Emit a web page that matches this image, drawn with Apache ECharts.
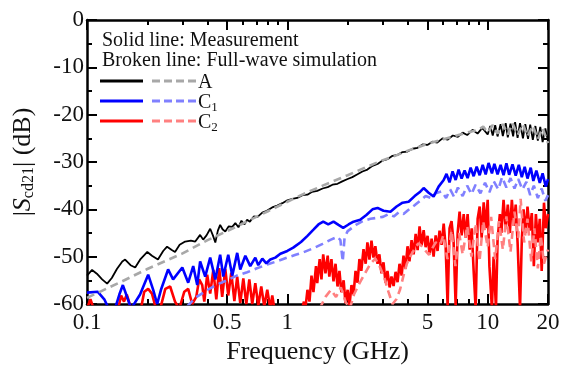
<!DOCTYPE html>
<html><head><meta charset="utf-8">
<script src="https://cdn.jsdelivr.net/npm/echarts@6/dist/echarts.min.js"></script>
<style>html,body{margin:0;padding:0;background:#fff}#c{width:562px;height:368px}</style>
</head><body><div id="c"></div>
<script>
// ---- tick values ----
const xTickLabels = [0.1, 0.5, 1, 5, 10, 20];
const xMinorTicks = [0.2, 0.3, 0.4, 0.6, 0.7, 0.8, 0.9, 2, 3, 4, 6, 7, 8, 9];
const yMin = -60, yMax = 0, yStep = 10;

// ---- A: measurement (solid black) [GHz, dB] ----
const aMeas = [[0.100,-54.0],[0.106,-52.8],[0.112,-53.6],[0.119,-54.8],[0.126,-55.7],[0.133,-54.5],[0.141,-52.6],[0.150,-51.0],[0.155,-50.6],[0.165,-51.8],[0.174,-52.3],[0.185,-50.5],[0.200,-49.0],[0.211,-49.8],[0.226,-50.6],[0.240,-48.8],[0.251,-47.9],[0.265,-48.6],[0.275,-49.0],[0.290,-47.5],[0.309,-46.8],[0.330,-46.6],[0.347,-46.8],[0.367,-45.4],[0.380,-46.4],[0.395,-45.5],[0.412,-44.1],[0.425,-45.5],[0.437,-47.0],[0.450,-44.5],[0.462,-43.3],[0.475,-44.2],[0.490,-44.7],[0.510,-43.6],[0.531,-43.7],[0.550,-42.9],[0.570,-43.8],[0.590,-42.4],[0.610,-43.2],[0.630,-42.2],[0.650,-42.6],[0.680,-41.5],[0.710,-41.6],[0.750,-40.7],[0.790,-40.3],[0.840,-39.6],[0.890,-39.2],[0.944,-38.7],[1.00,-38.1],[1.06,-37.8],[1.12,-37.6],[1.19,-37.0],[1.26,-36.9],[1.33,-36.3],[1.41,-36.1],[1.50,-35.6],[1.59,-35.3],[1.68,-34.8],[1.78,-34.6],[1.88,-34.1],[2.00,-33.6],[2.11,-33.2],[2.24,-32.6],[2.37,-32.0],[2.51,-31.6],[2.66,-30.8],[2.82,-30.4],[2.99,-29.7],[3.16,-29.4],[3.35,-28.7],[3.55,-28.5],[3.76,-27.9],[3.98,-27.8],[4.22,-27.2],[4.47,-27.0],[4.73,-26.3],[5.00,-26.4],[5.30,-25.7],[5.60,-25.9],[5.95,-25.0],[6.30,-25.3],[6.70,-24.4],[7.10,-24.7],[7.50,-23.8],[7.90,-24.3],[8.40,-23.2],[8.90,-24.0],[9.40,-22.8],[10.0,-24.2],[10.3,-22.4],[10.6,-24.4],[10.9,-22.2],[11.2,-24.6],[11.6,-22.0],[11.9,-24.5],[12.3,-21.8],[12.6,-24.8],[13.0,-21.9],[13.4,-24.6],[13.7,-21.6],[14.1,-24.9],[14.5,-21.8],[15.0,-25.0],[15.4,-22.0],[15.9,-25.1],[16.3,-22.1],[16.8,-25.3],[17.3,-22.4],[17.8,-25.5],[18.3,-22.6],[18.8,-25.8],[19.4,-22.9],[20.0,-25.6]];

// ---- A: simulation (broken grey) ----
const aSim = [[0.100,-58.7],[0.150,-55.2],[0.200,-52.6],[0.300,-49.3],[0.400,-46.5],[0.500,-44.6],[0.600,-43.0],[0.700,-41.6],[0.800,-40.4],[1.00,-38.4],[1.20,-36.8],[1.50,-35.0],[2.00,-32.8],[2.50,-31.0],[3.00,-29.6],[3.50,-28.6],[4.00,-27.6],[5.00,-26.2],[6.00,-25.2],[7.00,-24.4],[8.00,-23.7],[9.00,-23.2],[9.50,-22.5],[10.0,-23.8],[10.6,-22.2],[11.2,-24.0],[11.9,-22.0],[12.6,-24.2],[13.3,-21.8],[14.1,-24.3],[15.0,-22.0],[15.8,-24.6],[16.8,-22.3],[17.8,-25.2],[18.8,-22.8],[20.0,-26.0]];

// ---- C1: measurement (solid blue) ----
const c1Meas = [[0.100,-57.6],[0.113,-57.4],[0.122,-59.0],[0.130,-61.5],[0.138,-61.0],[0.145,-58.0],[0.151,-56.0],[0.160,-59.0],[0.166,-61.0],[0.184,-58.0],[0.202,-53.8],[0.214,-57.0],[0.224,-60.0],[0.234,-57.0],[0.254,-52.7],[0.269,-54.8],[0.299,-52.3],[0.320,-55.5],[0.339,-52.0],[0.355,-56.0],[0.367,-51.0],[0.389,-54.2],[0.412,-50.2],[0.437,-54.8],[0.462,-49.6],[0.479,-54.2],[0.507,-49.6],[0.531,-54.0],[0.562,-49.2],[0.582,-52.7],[0.617,-49.8],[0.653,-52.0],[0.692,-50.2],[0.716,-51.8],[0.750,-50.4],[0.785,-51.4],[0.822,-50.6],[0.871,-50.2],[0.923,-49.4],[1.00,-48.8],[1.07,-48.1],[1.17,-46.9],[1.26,-45.6],[1.35,-44.3],[1.43,-43.2],[1.51,-42.6],[1.60,-43.2],[1.70,-42.6],[1.80,-43.3],[1.90,-43.9],[2.02,-43.2],[2.14,-42.6],[2.31,-42.2],[2.48,-41.2],[2.66,-40.0],[2.82,-39.7],[3.02,-40.3],[3.27,-40.5],[3.51,-39.4],[3.76,-38.6],[4.03,-38.4],[4.32,-37.2],[4.57,-36.4],[4.79,-35.5],[5.07,-36.5],[5.37,-37.3],[5.69,-35.2],[6.03,-33.8],[6.23,-32.5],[6.45,-34.3],[6.68,-32.0],[6.92,-33.8],[7.16,-31.6],[7.41,-33.5],[7.67,-31.8],[7.94,-33.4],[8.22,-31.2],[8.51,-33.0],[8.81,-31.0],[9.12,-32.8],[9.44,-30.6],[9.77,-32.6],[10.1,-30.2],[10.5,-32.4],[10.8,-30.4],[11.2,-32.6],[11.6,-30.6],[12.0,-32.8],[12.4,-30.3],[12.8,-32.7],[13.3,-30.5],[13.8,-32.9],[14.3,-30.6],[14.8,-33.2],[15.3,-31.0],[15.8,-33.5],[16.4,-31.2],[16.9,-34.0],[17.5,-31.8],[18.2,-34.4],[18.8,-32.4],[19.5,-35.2],[20.0,-33.6]];

// ---- C1: simulation (broken light blue) ----
const c1Sim = [[0.316,-60.5],[0.350,-58.6],[0.400,-57.0],[0.450,-55.8],[0.500,-55.0],[0.560,-54.0],[0.630,-53.3],[0.700,-52.5],[0.800,-51.6],[0.900,-50.9],[1.00,-50.2],[1.10,-49.6],[1.20,-49.1],[1.35,-48.2],[1.50,-47.3],[1.65,-46.4],[1.78,-45.8],[1.84,-46.5],[1.89,-51.0],[1.93,-46.0],[2.00,-44.6],[2.20,-43.3],[2.40,-42.4],[2.60,-42.0],[2.80,-41.8],[3.00,-41.6],[3.20,-41.0],[3.40,-41.5],[3.60,-40.6],[3.80,-41.0],[4.00,-40.2],[4.30,-39.2],[4.60,-38.2],[4.90,-37.2],[5.20,-37.6],[5.50,-36.6],[5.90,-36.2],[6.20,-37.6],[6.50,-35.8],[6.80,-37.4],[7.10,-35.4],[7.50,-37.2],[7.90,-35.0],[8.30,-36.8],[8.70,-34.8],[9.20,-36.6],[9.70,-34.4],[10.2,-36.4],[10.7,-34.0],[11.3,-35.8],[11.8,-33.2],[12.4,-35.4],[13.0,-33.4],[13.6,-35.6],[14.2,-33.6],[14.9,-35.8],[15.6,-34.2],[16.3,-37.0],[17.0,-35.0],[17.8,-37.6],[18.6,-35.6],[19.4,-38.2],[20.0,-37.0]];

// ---- C2: measurement (solid red) ----
const c2Meas = [[0.100,-61],[0.104,-59.0],[0.108,-61],[0.143,-61],[0.148,-58.2],[0.153,-59.5],[0.158,-58.0],[0.166,-61],[0.184,-62],[0.193,-57.4],[0.202,-56.8],[0.211,-57.8],[0.221,-61],[0.232,-61],[0.246,-56.8],[0.260,-56.3],[0.275,-59.5],[0.289,-61],[0.306,-57.4],[0.320,-56.8],[0.335,-60],[0.351,-58.5],[0.363,-54.8],[0.376,-56.0],[0.385,-59.5],[0.398,-53.8],[0.412,-57.8],[0.427,-52.8],[0.442,-59.0],[0.457,-52.4],[0.473,-58.5],[0.490,-52.6],[0.507,-58.2],[0.525,-53.4],[0.544,-59.4],[0.562,-54.2],[0.582,-59.8],[0.603,-54.6],[0.624,-60],[0.646,-54.8],[0.668,-60],[0.692,-55.6],[0.716,-60.4],[0.741,-56.3],[0.767,-60.5],[0.794,-57.0],[0.822,-61],[0.841,-58.2],[0.861,-61],[0.881,-62],
 [1.17,-62],[1.21,-59.5],[1.23,-61],[1.26,-57],[1.29,-59.5],[1.32,-54],[1.35,-57.5],[1.39,-52],[1.41,-55.6],[1.45,-50.5],[1.48,-54.8],[1.51,-49.5],[1.55,-53.5],[1.59,-49.8],[1.62,-54.2],[1.66,-50.5],[1.70,-55.2],[1.74,-51.5],[1.78,-56.3],[1.82,-53],[1.86,-57.5],[1.91,-55],[1.95,-59.8],[2.00,-57],[2.04,-60.5],[2.09,-56],[2.14,-58],[2.19,-53],[2.24,-55.5],[2.29,-50.5],[2.34,-53],[2.40,-48.4],[2.46,-51.5],[2.51,-47],[2.57,-50.6],[2.63,-46.6],[2.69,-50.2],[2.75,-47.8],[2.82,-51.5],[2.88,-49.5],[2.95,-53.5],[3.02,-51.2],[3.09,-55.5],[3.16,-53],[3.24,-56.5],[3.31,-54.2],[3.39,-56.2],[3.47,-53.2],[3.55,-55.4],[3.63,-51.5],[3.72,-54],[3.80,-49.8],[3.89,-52.6],[3.98,-47.8],[4.07,-51],[4.17,-46.5],[4.27,-49.5],[4.37,-45.2],[4.47,-48.6],[4.57,-43.6],[4.68,-47.6],[4.79,-44.4],[4.90,-48],[5.01,-45.6],[5.13,-49.5],[5.25,-46.2],[5.37,-50],[5.50,-45.5],[5.62,-48.8],[5.75,-44.5],[5.89,-47.5],[6.03,-43],[6.17,-48],[6.31,-60.5],[6.45,-44],[6.60,-42.5],[6.76,-47],[6.92,-60.5],[7.08,-45],[7.24,-40.5],[7.41,-45.5],[7.59,-41],[7.76,-46],[7.94,-41],[8.13,-48.5],[8.32,-44],[8.51,-53],[8.71,-61],[8.91,-42],[9.12,-39.4],[9.33,-46],[9.55,-38.5],[9.77,-44],[10.0,-38],[10.2,-52],[10.5,-61],[10.7,-50],[11.0,-61],[11.2,-46.5],[11.5,-41],[11.7,-45],[12.0,-38],[12.3,-44],[12.6,-39],[12.9,-45],[13.2,-38],[13.5,-43.5],[13.8,-39],[14.1,-47],[14.5,-61],[14.8,-46.5],[15.1,-40],[15.5,-45],[15.8,-39.4],[16.2,-44.5],[16.6,-40.8],[17.0,-52],[17.4,-41],[17.8,-47],[18.2,-42],[18.6,-53],[19.1,-38.6],[19.5,-44],[20.0,-41]];

// ---- C2: simulation (broken pink) ----
const c2Sim = [[1.45,-61],[1.55,-58.5],[1.65,-57],[1.75,-58.5],[1.85,-56.5],[1.95,-59.5],[2.05,-61],[2.15,-58],[2.30,-55.5],[2.45,-53.4],[2.60,-51.5],[2.75,-50.4],[2.90,-52.2],[3.05,-54.5],[3.20,-57.5],[3.35,-60],[3.50,-59],[3.65,-57],[3.80,-54],[3.95,-51.5],[4.10,-50],[4.30,-48.5],[4.50,-47.2],[4.70,-47.8],[4.90,-48.8],[5.10,-49.6],[5.30,-48.2],[5.50,-47.0],[5.80,-47.5],[6.00,-45.5],[6.30,-50.5],[6.60,-44.5],[6.90,-52],[7.20,-45],[7.50,-49.5],[7.90,-43.5],[8.30,-50],[8.70,-43],[9.10,-51],[9.50,-42.5],[10.0,-48],[10.4,-41.6],[10.9,-50.5],[11.4,-42.5],[11.9,-48.5],[12.4,-41.5],[13.0,-49],[13.6,-40.5],[14.2,-46],[14.6,-37.8],[15.2,-47],[15.8,-42],[16.5,-51],[17.1,-44],[17.8,-52.5],[18.4,-45.5],[19.1,-51.5],[20.0,-48.5]];

const FONT = '"Liberation Serif","Times New Roman",serif';
const TXT = '#111';

function xAx(pos, ticks, len, showLabel, showLine) {
  return {
    type: 'log', logBase: 10, min: 0.1, max: 20, position: pos, gridIndex: 0,
    axisLine: { show: showLine, onZero: false, lineStyle: { color: '#000', width: 2.5 } },
    axisTick: { show: true, inside: true, length: len, customValues: ticks, lineStyle: { color: '#000', width: 2 } },
    axisLabel: { show: showLabel, customValues: xTickLabels, margin: 7, fontFamily: FONT, fontSize: 23, color: TXT,
      formatter: v => String(+(+v).toPrecision(3)) },
    splitLine: { show: false }, minorTick: { show: false }, minorSplitLine: { show: false }
  };
}
function yAx(pos, showLabel) {
  return {
    type: 'value', min: yMin, max: yMax, interval: yStep, position: pos, gridIndex: 0,
    axisLine: { show: true, onZero: false, lineStyle: { color: '#000', width: 2.5 } },
    axisTick: { show: true, inside: true, length: 10, lineStyle: { color: '#000', width: 2 } },
    minorTick: { show: true, splitNumber: 2, length: 5, lineStyle: { color: '#000', width: 2 } },
    axisLabel: { show: showLabel, margin: 3, fontFamily: FONT, fontSize: 23, color: TXT },
    splitLine: { show: false }
  };
}

const xAxes = [xAx('bottom', xTickLabels, 10, true, true), xAx('bottom', xMinorTicks, 5, false, false),
               xAx('top', xTickLabels, 10, false, true), xAx('top', xMinorTicks, 5, false, false)];
xAxes[0].name = 'Frequency (GHz)';
xAxes[0].nameLocation = 'middle';
xAxes[0].nameGap = 34;
xAxes[0].nameTextStyle = { fontFamily: FONT, fontSize: 26, color: TXT };

const yAxes = [yAx('left', true), yAx('right', false)];
yAxes[0].name = '|{s|S}{sub|cd21}| (dB)';
yAxes[0].nameLocation = 'middle';
yAxes[0].nameGap = 50;
yAxes[0].nameRotate = 90;
yAxes[0].nameTextStyle = { fontFamily: FONT, fontSize: 26, color: TXT,
  rich: { s: { fontFamily: FONT, fontSize: 26, fontStyle: 'italic', color: TXT },
          sub: { fontFamily: FONT, fontSize: 16, color: TXT, verticalAlign: 'bottom', padding: [12, 0, 0, 0] } } };

function line(data, color, width, dashed, z) {
  return { type: 'line', data: data, xAxisIndex: 0, yAxisIndex: 0, showSymbol: false, symbol: 'none',
    clip: true, z: z, animation: false,
    lineStyle: { color: color, width: width, type: dashed ? [8, 5] : 'solid' } };
}

const series = [
  line(c2Meas, '#ff0000', 2.6, false, 2),
  line(c2Sim, '#ff8080', 2.6, true, 3),
  line(c1Sim, '#8080ff', 2.6, true, 4),
  line(c1Meas, '#0000ff', 2.6, false, 5),
  line(aMeas, '#000000', 1.8, false, 6),
  line(aSim, '#a8a8a8', 2.6, true, 7)
];

const legendRows = [
  { y: 81, solid: '#000000', dash: '#a8a8a8', label: 'A' },
  { y: 101, solid: '#0000ff', dash: '#8080ff', label: '{m|C}{b|1}' },
  { y: 121, solid: '#ff0000', dash: '#ff8080', label: '{m|C}{b|2}' }
];
const graphic = [
  { type: 'text', left: 102, top: 31, style: { text: 'Solid line: Measurement', font: '20px ' + FONT, fill: TXT } },
  { type: 'text', left: 102, top: 51, style: { text: 'Broken line: Full-wave simulation', font: '20px ' + FONT, fill: TXT } }
];
legendRows.forEach(r => {
  graphic.push({ type: 'line', shape: { x1: 100, y1: r.y, x2: 143, y2: r.y }, style: { stroke: r.solid, lineWidth: 3 } });
  graphic.push({ type: 'line', shape: { x1: 152, y1: r.y, x2: 197, y2: r.y }, style: { stroke: r.dash, lineWidth: 3, lineDash: [8, 4] } });
  graphic.push({ type: 'text', x: 198, y: r.y + 2, style: { text: r.label, font: '20px ' + FONT, fill: TXT, verticalAlign: 'middle',
    rich: { m: { fontFamily: FONT, fontSize: 20, color: TXT }, b: { fontFamily: FONT, fontSize: 13, color: TXT, verticalAlign: 'bottom', padding: [10, 0, 0, 0] } } } });
});

const chart = echarts.init(document.getElementById('c'), null, { renderer: 'canvas' });
chart.setOption({
  animation: false,
  backgroundColor: '#fff',
  grid: { left: 87, right: 14, top: 20, bottom: 64, containLabel: false, outerBoundsMode: 'none' },
  xAxis: xAxes,
  yAxis: yAxes,
  series: series,
  graphic: graphic
});
</script></body></html>
